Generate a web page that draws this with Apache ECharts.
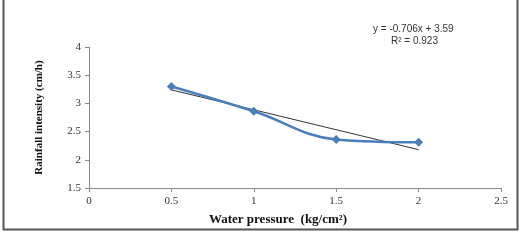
<!DOCTYPE html>
<html lang="en">

<head>
    <meta charset="UTF-8">
    <title>Rainfall intensity vs water pressure</title>
    <script src="https://cdn.jsdelivr.net/npm/echarts@6/dist/echarts.min.js"></script>
    <style>
        html, body { margin: 0; padding: 0; background: #fff; }
    </style>
</head>

<body>
    <div id="chart" style="width: 521px;height: 240px;"></div>
</body>
<script type="text/javascript">
    // measured points (water pressure kg/cm2, rainfall cm/h)
    var pressure = [0.5, 1, 1.5, 2];
    var rainfall = [3.3, 2.86, 2.36, 2.31];
    // linear trendline end points
    var trendX = [0.5, 2];
    var trendY = [3.24, 2.18];
    var xTicks = [0, 0.5, 1, 1.5, 2, 2.5];
    var yTicks = [1.5, 2, 2.5, 3, 3.5, 4];
    var equation = ['y = -0.706x + 3.59', 'R\u00b2 = 0.923'];

    var chart = echarts.init(document.getElementById('chart'));

    var serif = '"Liberation Serif", "DejaVu Serif", serif';

    var option = {
        animation: false,
        grid: { left: 89, top: 47, right: 20, bottom: 52 },
        xAxis: {
            type: 'value',
            min: xTicks[0],
            max: xTicks[xTicks.length - 1],
            interval: 0.5,
            name: 'Water pressure  (kg/cm\u00b2)',
            nameLocation: 'middle',
            nameGap: 25,
            nameTextStyle: {
                fontFamily: serif, fontWeight: 'bold', fontSize: 13, color: '#111',
                padding: [0, 34, 0, 0]
            },
            axisLine: { lineStyle: { color: '#8a8a8a', width: 1 } },
            axisTick: { show: true, length: 4, inside: false, lineStyle: { color: '#8a8a8a' } },
            axisLabel: { fontFamily: serif, fontSize: 11, color: '#333', margin: 8 },
            splitLine: { show: false }
        },
        yAxis: {
            type: 'value',
            min: yTicks[0],
            max: yTicks[yTicks.length - 1],
            interval: 0.5,
            name: 'Rainfall intensity (cm/h)',
            nameLocation: 'middle',
            nameGap: 44,
            nameTextStyle: { fontFamily: serif, fontWeight: 'bold', fontSize: 11, color: '#111' },
            axisLine: { show: true, lineStyle: { color: '#8a8a8a', width: 1 } },
            axisTick: { show: true, length: 4, lineStyle: { color: '#8a8a8a' } },
            axisLabel: { fontFamily: serif, fontSize: 11, color: '#333', margin: 8 },
            splitLine: { show: false }
        },
        series: [
            {
                type: 'line',
                data: trendX.map(function (x, i) { return [x, trendY[i]]; }),
                symbol: 'none',
                lineStyle: { color: '#333', width: 1 },
                z: 1
            },
            {
                type: 'line',
                data: pressure.map(function (x, i) { return [x, rainfall[i]]; }),
                smooth: 0.4,
                symbol: 'diamond',
                symbolSize: 9,
                itemStyle: { color: '#4a7ebb' },
                lineStyle: { color: '#4a7ebb', width: 2.5 },
                z: 2
            }
        ],
        graphic: [
            {
                type: 'rect',
                shape: { x: 3.5, y: -5, width: 514, height: 234.5 },
                style: { fill: 'none', stroke: '#555', lineWidth: 2 },
                silent: true
            },
            {
                type: 'text',
                left: 373, top: 24,
                style: {
                    text: equation[0], font: '10px "Liberation Sans", sans-serif', fill: '#333'
                }
            },
            {
                type: 'text',
                left: 391, top: 36,
                style: {
                    text: equation[1], font: '10px "Liberation Sans", sans-serif', fill: '#333'
                }
            }
        ]
    };

    chart.setOption(option);
</script>

</html>
